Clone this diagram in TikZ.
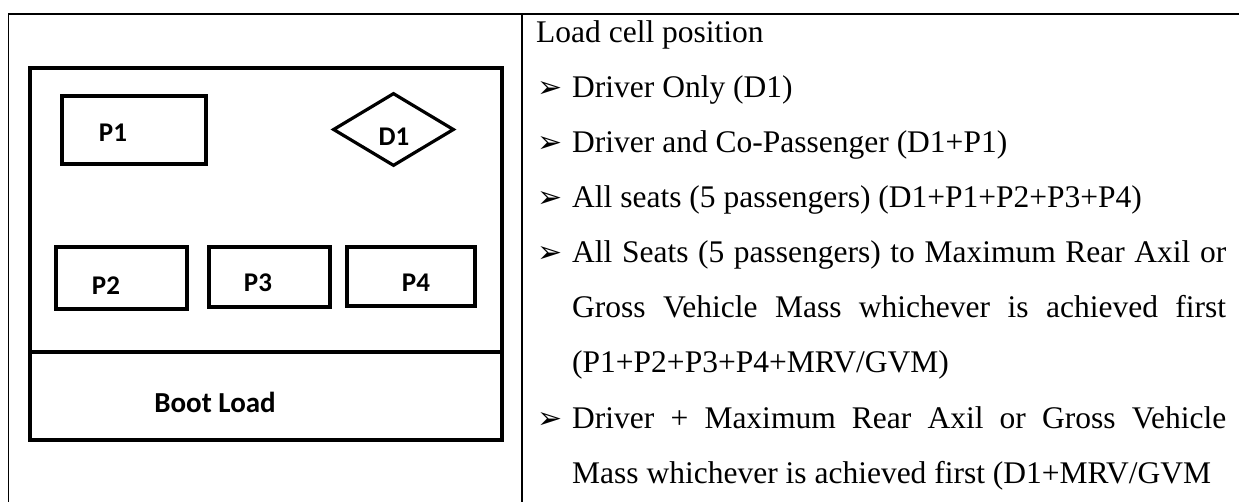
\documentclass[tikz,border=0pt]{standalone}
\usepackage{fontspec}
\setmainfont{Liberation Serif}
\newfontfamily\lblfont{Carlito}
\newfontfamily\symfont{DejaVu Sans}
\usetikzlibrary{shapes.geometric}

\newcommand{\itemmark}{{\symfont\fontsize{30}{30}\selectfont ➢}}

\begin{document}
\begin{tikzpicture}[x=1pt, y=-1pt,
rule/.style={line width=1.8pt},
seat/.style={rectangle, draw=black, line width=3.5pt, inner sep=0pt},
lbl/.style={anchor=base, inner sep=0pt, font=\lblfont\bfseries\fontsize{27}{27}\selectfont},
txt/.style={anchor=base west, inner sep=0pt, font=\fontsize{31.5}{31.5}\selectfont},
bullet/.style={anchor=base west, inner sep=0pt} ]
\useasboundingbox (0,0) rectangle (1239,502);

\coordinate (tl) at (8.5,14);
\coordinate (tr) at (1239,14);
\coordinate (bl) at (8.5,502);
\coordinate (mt) at (522,14);
\coordinate (mb) at (522,502);
\draw[rule] (bl) -- (tl) -- (tr);
\draw[rule] (mt) -- (mb);

\draw[line width=4pt] (30,68) rectangle (502,440);
\draw[line width=4pt] (30,352) -- (502,352);

\node (P1) [seat, minimum width=144pt, minimum height=68pt] at (134,130) {};
\node (D1) [diamond, draw=black, line width=3.2pt, inner sep=0pt, minimum width=121pt, minimum height=73pt] at (393.5,129.5) {};
\node (P2) [seat, minimum width=131pt, minimum height=62pt] at (121.5,278) {};
\node (P3) [seat, minimum width=121pt, minimum height=60pt] at (269.5,277) {};
\node (P4) [seat, minimum width=128pt, minimum height=59pt] at (411,276.5) {};

\node (P1l) [lbl] at (113,142) {P1};
\node (D1l) [lbl] at (394,146) {D1};
\node (P2l) [lbl] at (106,295) {P2};
\node (P3l) [lbl] at (258,292) {P3};
\node (P4l) [lbl] at (416,292) {P4};
\node (boot) [lbl, font=\lblfont\bfseries\fontsize{29}{29}\selectfont] at (215,412) {Boot Load};

\node (l1) [txt] at (536,43) {Load cell position};
\node (m2) [bullet] at (537,98) {\itemmark};
\node (l2) [txt] at (572,98) {Driver Only (D1)};
\node (m3) [bullet] at (537,153) {\itemmark};
\node (l3) [txt] at (572,153) {Driver and Co-Passenger (D1+P1)};
\node (m4) [bullet] at (537,208) {\itemmark};
\node (l4) [txt] at (572,208) {All seats (5 passengers) (D1+P1+P2+P3+P4)};
\node (m5) [bullet] at (537,263) {\itemmark};
\node (l5) [txt] at (572,263) {\makebox[654pt][s]{All Seats (5 passengers) to Maximum Rear Axil or}};
\node (l6) [txt] at (572,318) {\makebox[654pt][s]{Gross Vehicle Mass whichever is achieved first}};
\node (l7) [txt] at (572,373) {(P1+P2+P3+P4+MRV/GVM)};
\node (m8) [bullet] at (537,428) {\itemmark};
\node (l8) [txt] at (572,428) {\makebox[654pt][s]{Driver + Maximum Rear Axil or Gross Vehicle}};
\node (l9) [txt] at (572,483) {Mass whichever is achieved first (D1+MRV/GVM};
\end{tikzpicture}
\end{document}
